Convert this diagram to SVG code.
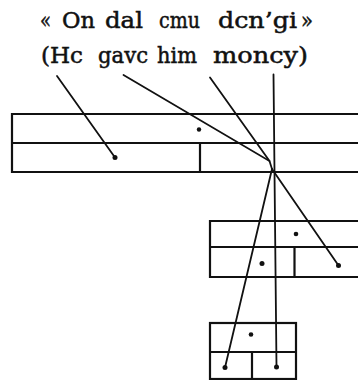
<svg xmlns="http://www.w3.org/2000/svg" width="358" height="380" viewBox="0 0 358 380">
<style>
.t{font-family:"DejaVu Serif","Liberation Serif",serif;font-size:22px;fill:#111;stroke:#111;stroke-width:0.5}
.b{fill:none;stroke:#111;stroke-width:2.2}
.c{fill:none;stroke:#111;stroke-width:1.8;stroke-linecap:round}
.d{fill:#111}
</style>
<rect width="358" height="380" fill="#fff"/>
<g id="title">
<text class="t" x="40" y="28" textLength="11" lengthAdjust="spacingAndGlyphs">«</text>
<text class="t" x="62" y="28" textLength="33" lengthAdjust="spacingAndGlyphs">On</text>
<text class="t" x="105" y="28" textLength="38" lengthAdjust="spacingAndGlyphs">dal</text>
<text class="t" x="159" y="28" textLength="41" lengthAdjust="spacingAndGlyphs">cmu</text>
<text class="t" x="218" y="28" textLength="79" lengthAdjust="spacingAndGlyphs">dcn’gi</text>
<text class="t" x="301" y="28" textLength="12" lengthAdjust="spacingAndGlyphs">»</text>
<text class="t" x="41" y="63" textLength="42" lengthAdjust="spacingAndGlyphs">(Hc</text>
<text class="t" x="98" y="63" textLength="50" lengthAdjust="spacingAndGlyphs">gavc</text>
<text class="t" x="157" y="63" textLength="40" lengthAdjust="spacingAndGlyphs">him</text>
<text class="t" x="213" y="63" textLength="95" lengthAdjust="spacingAndGlyphs">moncy)</text>
</g>
<g id="node-main">
<path class="b" d="M359 114 H12 V172 H359 M12 143 H359 M200 143 V172"/>
<circle class="d" cx="199" cy="129.5" r="2.2"/>
<circle class="d" cx="115" cy="157.5" r="2.5"/>
</g>
<g id="node-mid">
<path class="b" d="M359 221 H210 V277 H359 M210 247 H359 M294.5 247 V277"/>
<circle class="d" cx="296" cy="234" r="2.3"/>
<circle class="d" cx="262" cy="263.5" r="2.5"/>
<circle class="d" cx="338.5" cy="265.5" r="2.5"/>
</g>
<g id="node-bottom">
<rect class="b" x="210" y="323" width="86" height="56"/>
<path class="b" d="M210 352 H296 M252 352 V379"/>
<circle class="d" cx="251" cy="334.5" r="2.3"/>
<circle class="d" cx="225" cy="367.5" r="2.5"/>
<circle class="d" cx="276.5" cy="367" r="2.5"/>
</g>
<g id="connectors">
<line class="c" x1="57" y1="76" x2="115" y2="157.5"/>
<polyline class="c" points="123.5,75 269.5,161 272,169"/>
<line class="c" x1="210" y1="77.5" x2="269.5" y2="161"/>
<line class="c" x1="273.5" y1="74.5" x2="276.5" y2="367"/>
<line class="c" x1="272" y1="169" x2="225" y2="367.5"/>
<line class="c" x1="272" y1="169" x2="338.5" y2="265.5"/>
</g>
</svg>
